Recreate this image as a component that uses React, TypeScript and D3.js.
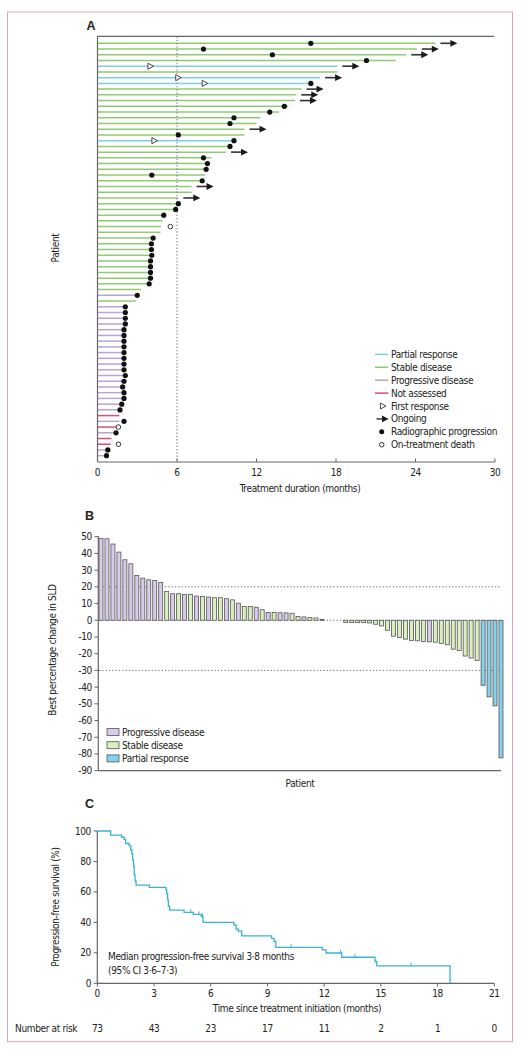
import React from "react";
import * as d3 from "d3";

// ---------- Panel A data (rows top to bottom) ----------
// response: S stable, P partial, D progressive, N not assessed
const aResponse = [
  "S","S","S","S","P","S","P","P","S","S","S","S","S","S","S","S","S","P","S","S",
  "S","S","S","S","S","S","S","S","S","S","S","S","S","S","S","S","S","S","S","S",
  "S","S","S","S","D","S","D","D","D","D","D","D","D","D","D","D","D","D","D","D",
  "D","D","D","D","D","N","D","N","D","N","N","D","D",
];
const aDuration = [
  25.5,24.1,23.3,22.5,18.1,18.1,16.8,16.1,15.4,15.0,14.9,14.4,13.7,12.3,12.0,11.1,11.1,10.3,10.1,9.7,
  8.6,8.4,8.3,8.1,8.0,7.1,7.1,6.1,6.1,5.9,5.0,4.9,4.8,4.75,4.2,4.07,4.07,4.1,4.0,4.0,
  4.0,4.0,3.9,3.3,3.0,2.9,2.1,2.1,2.1,2.1,2.0,2.0,2.0,2.0,2.0,2.0,2.0,2.0,2.1,2.0,
  1.9,2.0,2.0,1.83,1.7,1.65,1.65,1.43,1.4,1.05,1.0,0.78,0.68,
];
const aProgression: (number | null)[] = [
  16.1,8.0,13.2,20.3,null,null,null,16.1,null,null,null,14.1,13.0,10.3,10.0,null,6.1,10.3,10.0,null,
  8.0,8.3,8.2,4.1,7.9,null,null,null,6.1,5.9,5.0,null,null,null,4.2,4.07,4.07,4.1,4.0,4.0,
  4.0,4.0,3.9,null,3.0,null,2.1,2.1,2.1,2.1,2.0,2.0,2.0,2.0,2.0,2.0,2.0,2.0,2.1,2.0,
  1.9,2.0,2.0,1.83,1.7,null,2.0,null,1.4,null,null,0.78,0.68,
];
const aFirstResponse: (number | null)[] = aResponse.map(() => null);
aFirstResponse[4] = 4.0; aFirstResponse[6] = 6.1; aFirstResponse[7] = 8.1; aFirstResponse[17] = 4.3;
const aOngoingRows = [0,1,2,4,6,8,9,10,15,19,25,27];
const aDeath: (number | null)[] = aResponse.map(() => null);
aDeath[32] = 5.5; aDeath[67] = 1.58; aDeath[70] = 1.58;
const aTicks = [0, 6, 12, 18, 24, 30];

// ---------- Panel B data ----------
const bValues = [
  49,48.8,45.6,40.8,36.2,33.8,26.8,25.2,24.2,23.8,22.6,
  17.3,15.9,15.9,15.5,15.5,14.5,14.3,13.9,13.5,13.5,12.9,12.2,10.2,8.2,8.2,7.8,6.3,4.7,4.7,4.5,4.4,4.2,2.3,2.0,1.7,1.4,0.5,0,0,0,
  -1.4,-1.4,-1.4,-1.4,-1.6,-2.4,-3.4,-6,-9.5,-10.3,-11.3,-12.1,-12.3,-12.7,-12.9,-13.1,-13.9,-14.7,-17.3,-18.1,-21.4,-22.6,-24,
  -38.9,-45.8,-51.2,-82.3,
];
const bResponse = [
  "D","D","D","D","D","D","D","D","D","D","D",
  "S","D","S","D","S","D","S","D","S","S","D","S","D","S","S","D","S","D","S","D","D","S","S","D","S","S","S","S","S","S",
  "S","S","S","S","S","S","S","S","S","S","S","S","S","S","D","S","S","S","S","S","S","S","S",
  "P","P","P","P",
];
const bTicks = [50,40,30,20,10,0,-10,-20,-30,-40,-50,-60,-70,-80,-90];

// ---------- Panel C data ----------
const kmTime = [0,0.71,1.29,1.42,1.5,1.68,1.77,1.83,1.87,1.92,1.95,2.0,2.05,2.75,3.63,3.67,3.72,3.76,3.82,4.59,5.08,5.5,5.59,7.23,7.34,7.46,7.64,9.22,9.35,9.44,11.9,12.1,12.93,14.69,14.78,18.66];
const kmSurv = [100,97.3,95.9,94.5,91.8,90.4,87.7,84.9,80.8,76.7,71.2,67.1,64.4,63.0,61.6,58.9,54.8,50.7,48.0,46.6,45.2,43.8,40.0,38.4,35.6,34.2,31.1,29.5,27.6,23.6,21.9,19.9,17.1,14.3,11.4,0];
const kmCensor = [4.94,5.38,5.56,10.25,12.87,13.63,16.6];
const cTicksX = [0,3,6,9,12,15,18,21];
const cTicksY = [0,20,40,60,80,100];
const atRisk = [73,43,23,17,11,2,1,0];

const FONT = "'Liberation Sans Narrow','DejaVu Sans Condensed','Arial Narrow','Liberation Sans',sans-serif";
const FS = 10;
const LS = -0.35;
const colA: Record<string, string> = { S: "#8fcb70", P: "#7ccdea", D: "#b8a4d6", N: "#d6507a" };
const colB: Record<string, string> = { S: "#d9efbd", P: "#84d2ec", D: "#d8cbea" };
const AX = "#666";
const DOT = "#5f7585";
const TXT = "#222";

export default function App() {
  const xA = d3.scaleLinear().domain([0, 30]).range([97.5, 495]);
  const yA = d3.scalePoint<number>().domain(d3.range(aResponse.length)).range([43.3, 455.7]);
  const xB = d3.scaleBand<number>().domain(d3.range(bValues.length)).range([99, 503]).paddingInner(0.33).paddingOuter(0);
  const yB = d3.scaleLinear().domain([-90, 50]).range([770.7, 536.7]);
  const xC = d3.scaleLinear().domain([0, 21]).range([97.3, 494.3]);
  const yC = d3.scaleLinear().domain([0, 100]).range([983.3, 831]);

  const kmPts: [number, number][] = kmTime.map((t, i) => [t, kmSurv[i]]);
  const kmLine = d3.line<[number, number]>().x(d => xC(d[0])).y(d => yC(d[1])).curve(d3.curveStepAfter)(kmPts) || "";
  const survAt = (t: number) => {
    let s = 100;
    for (let i = 0; i < kmTime.length; i++) if (kmTime[i] <= t) s = kmSurv[i];
    return s;
  };

  const T = (props: any) => <text fontSize={FS} letterSpacing={LS} fill={TXT} dy="0.35em" {...props} />;

  const tri = (cx: number, cy: number) => `M${cx - 2.6},${cy - 3} L${cx + 3},${cy} L${cx - 2.6},${cy + 3} Z`;
  const arrow = (x0: number, cy: number, key: any) => (
    <g key={key}>
      <line x1={x0} x2={x0 + 11} y1={cy} y2={cy} stroke="#333" strokeWidth={1.6} />
      <path d={`M${x0 + 10},${cy - 3.4} L${x0 + 17},${cy} L${x0 + 10},${cy + 3.4} Z`} fill="#1a1a1a" />
    </g>
  );

  const legendA = [
    { t: "Partial response", k: "P" },
    { t: "Stable disease", k: "S" },
    { t: "Progressive disease", k: "D" },
    { t: "Not assessed", k: "N" },
    { t: "First response", k: "tri" },
    { t: "Ongoing", k: "arrow" },
    { t: "Radiographic progression", k: "dot" },
    { t: "On-treatment death", k: "circle" },
  ];
  const legendB = [
    { t: "Progressive disease", k: "D" },
    { t: "Stable disease", k: "S" },
    { t: "Partial response", k: "P" },
  ];
  const letterFont = "'Liberation Sans','DejaVu Sans',sans-serif";

  return (
    <svg width={521} height={1050} style={{ position: "absolute", left: 0, top: 0, display: "block", background: "#fff" }} fontFamily={FONT}>
      <rect x={7.5} y={12} width={505} height={1029.7} fill="none" stroke="#e6a3bd" strokeWidth={1} />

      {/* ================= Panel A ================= */}
      <text x={86.5} y={30} fontSize={12.5} fontWeight={600} fill={TXT} fontFamily={letterFont}>A</text>
      {aResponse.map((r, i) => (
        <line key={"al" + i} x1={xA(0)} x2={xA(aDuration[i])} y1={yA(i)} y2={yA(i)} stroke={colA[r]} strokeWidth={1.5} />
      ))}
      <line x1={xA(6)} x2={xA(6)} y1={36.5} y2={462} stroke={DOT} strokeWidth={1} strokeDasharray="1.3,2" />
      {aOngoingRows.map(i => arrow(xA(aDuration[i]) + 5, yA(i)!, "ar" + i))}
      {aFirstResponse.map((v, i) => v == null ? null : (
        <path key={"fr" + i} d={tri(xA(v), yA(i)!)} fill="#fff" stroke="#333" strokeWidth={0.9} />
      ))}
      {aProgression.map((v, i) => v == null ? null : (
        <circle key={"pg" + i} cx={xA(v)} cy={yA(i)} r={2.6} fill="#111" />
      ))}
      {aDeath.map((v, i) => v == null ? null : (
        <circle key={"dt" + i} cx={xA(v)} cy={yA(i)} r={2.3} fill="#fff" stroke="#222" strokeWidth={0.9} />
      ))}
      <line x1={xA(0)} x2={494} y1={36.3} y2={36.3} stroke={AX} strokeWidth={1.2} />
      <line x1={xA(0)} x2={xA(0)} y1={36.3} y2={462} stroke={AX} strokeWidth={1.2} />
      <line x1={xA(0)} x2={xA(30)} y1={462} y2={462} stroke={AX} strokeWidth={1.2} />
      {aTicks.map(t => (
        <g key={"at" + t}>
          <line x1={xA(t)} x2={xA(t)} y1={462} y2={458.5} stroke={AX} strokeWidth={1} />
          <T x={xA(t)} y={472.5} textAnchor="middle">{t}</T>
        </g>
      ))}
      <T x={300} y={488.5} textAnchor="middle">Treatment duration (months)</T>
      <T transform="translate(55,248) rotate(-90)" textAnchor="middle">Patient</T>
      {legendA.map((d, i) => {
        const y = 354.4 + i * 12.9;
        let sym: any = null;
        if (colA[d.k]) sym = <line x1={375} x2={388.3} y1={y} y2={y} stroke={colA[d.k]} strokeWidth={1.5} />;
        else if (d.k === "tri") sym = <path d={tri(383, y)} fill="#fff" stroke="#333" strokeWidth={0.9} />;
        else if (d.k === "arrow") sym = (
          <g>
            <line x1={376.5} x2={383} y1={y} y2={y} stroke="#333" strokeWidth={1.4} />
            <path d={`M${382},${y - 3.4} L${388.5},${y} L${382},${y + 3.4} Z`} fill="#1a1a1a" />
          </g>
        );
        else if (d.k === "dot") sym = <circle cx={381.7} cy={y} r={2.5} fill="#111" />;
        else sym = <circle cx={381.7} cy={y} r={2.3} fill="#fff" stroke="#222" strokeWidth={0.9} />;
        return (
          <g key={"la" + i}>
            {sym}
            <T x={391} y={y}>{d.t}</T>
          </g>
        );
      })}

      {/* ================= Panel B ================= */}
      <text x={85} y={520} fontSize={12.5} fontWeight={600} fill={TXT} fontFamily={letterFont}>B</text>
      {[20, 0, -30].map(v => (
        <line key={"bg" + v} x1={99} x2={501} y1={yB(v)} y2={yB(v)} stroke={DOT} strokeWidth={1} strokeDasharray="1.3,2" />
      ))}
      {bValues.map((v, i) => v === 0 ? null : (
        <rect key={"bb" + i} x={xB(i)} width={xB.bandwidth()} y={Math.min(yB(v), yB(0))} height={Math.max(0.8, Math.abs(yB(v) - yB(0)))}
          fill={colB[bResponse[i]]} stroke="#555" strokeWidth={0.8} />
      ))}
      <line x1={98.3} x2={98.3} y1={536} y2={770.7} stroke={AX} strokeWidth={1.2} />
      <line x1={98.3} x2={501} y1={770.7} y2={770.7} stroke={AX} strokeWidth={1.2} />
      {bTicks.map(t => (
        <g key={"bt" + t}>
          <line x1={94.5} x2={98.3} y1={yB(t)} y2={yB(t)} stroke={AX} strokeWidth={1} />
          <T x={92} y={yB(t)} textAnchor="end">{t < 0 ? "-" + Math.abs(t) : t}</T>
        </g>
      ))}
      <T transform="translate(52,650) rotate(-90)" textAnchor="middle">Best percentage change in SLD</T>
      <T x={300} y={783} textAnchor="middle">Patient</T>
      {legendB.map((d, i) => {
        const y = 732 + i * 13.2;
        return (
          <g key={"lb" + i}>
            <rect x={107} y={y - 3.5} width={12} height={7} fill={colB[d.k]} stroke="#555" strokeWidth={0.8} />
            <T x={122} y={y}>{d.t}</T>
          </g>
        );
      })}

      {/* ================= Panel C ================= */}
      <text x={85} y={808} fontSize={12.5} fontWeight={600} fill={TXT} fontFamily={letterFont}>C</text>
      <path d={kmLine} fill="none" stroke="#38b3d6" strokeWidth={1.3} />
      {kmCensor.map((t, i) => (
        <line key={"cc" + i} x1={xC(t)} x2={xC(t)} y1={yC(survAt(t))} y2={yC(survAt(t)) - 3.2} stroke="#38b3d6" strokeWidth={1} />
      ))}
      <line x1={xC(0)} x2={xC(0)} y1={831} y2={983.3} stroke={AX} strokeWidth={1.2} />
      <line x1={xC(0)} x2={xC(21)} y1={983.3} y2={983.3} stroke={AX} strokeWidth={1.2} />
      {cTicksY.map(t => (
        <g key={"cy" + t}>
          <line x1={93.5} x2={xC(0)} y1={yC(t)} y2={yC(t)} stroke={AX} strokeWidth={1} />
          <T x={91} y={yC(t)} textAnchor="end">{t}</T>
        </g>
      ))}
      {cTicksX.map((t, i) => (
        <g key={"cx" + t}>
          <line x1={xC(t)} x2={xC(t)} y1={983.3} y2={986.5} stroke={AX} strokeWidth={1} />
          <T x={xC(t)} y={993.5} textAnchor="middle">{t}</T>
          <T x={xC(t)} y={1028.5} textAnchor="middle">{atRisk[i]}</T>
        </g>
      ))}
      <T x={297} y={1008.5} textAnchor="middle">Time since treatment initiation (months)</T>
      <T transform="translate(55,907) rotate(-90)" textAnchor="middle">Progression-free survival (%)</T>
      <T x={15} y={1028.5}>Number at risk</T>
      <T x={108} y={956.7}>Median progression-free survival 3·8 months</T>
      <T x={108} y={970.3}>(95% CI 3·6–7·3)</T>
    </svg>
  );
}
